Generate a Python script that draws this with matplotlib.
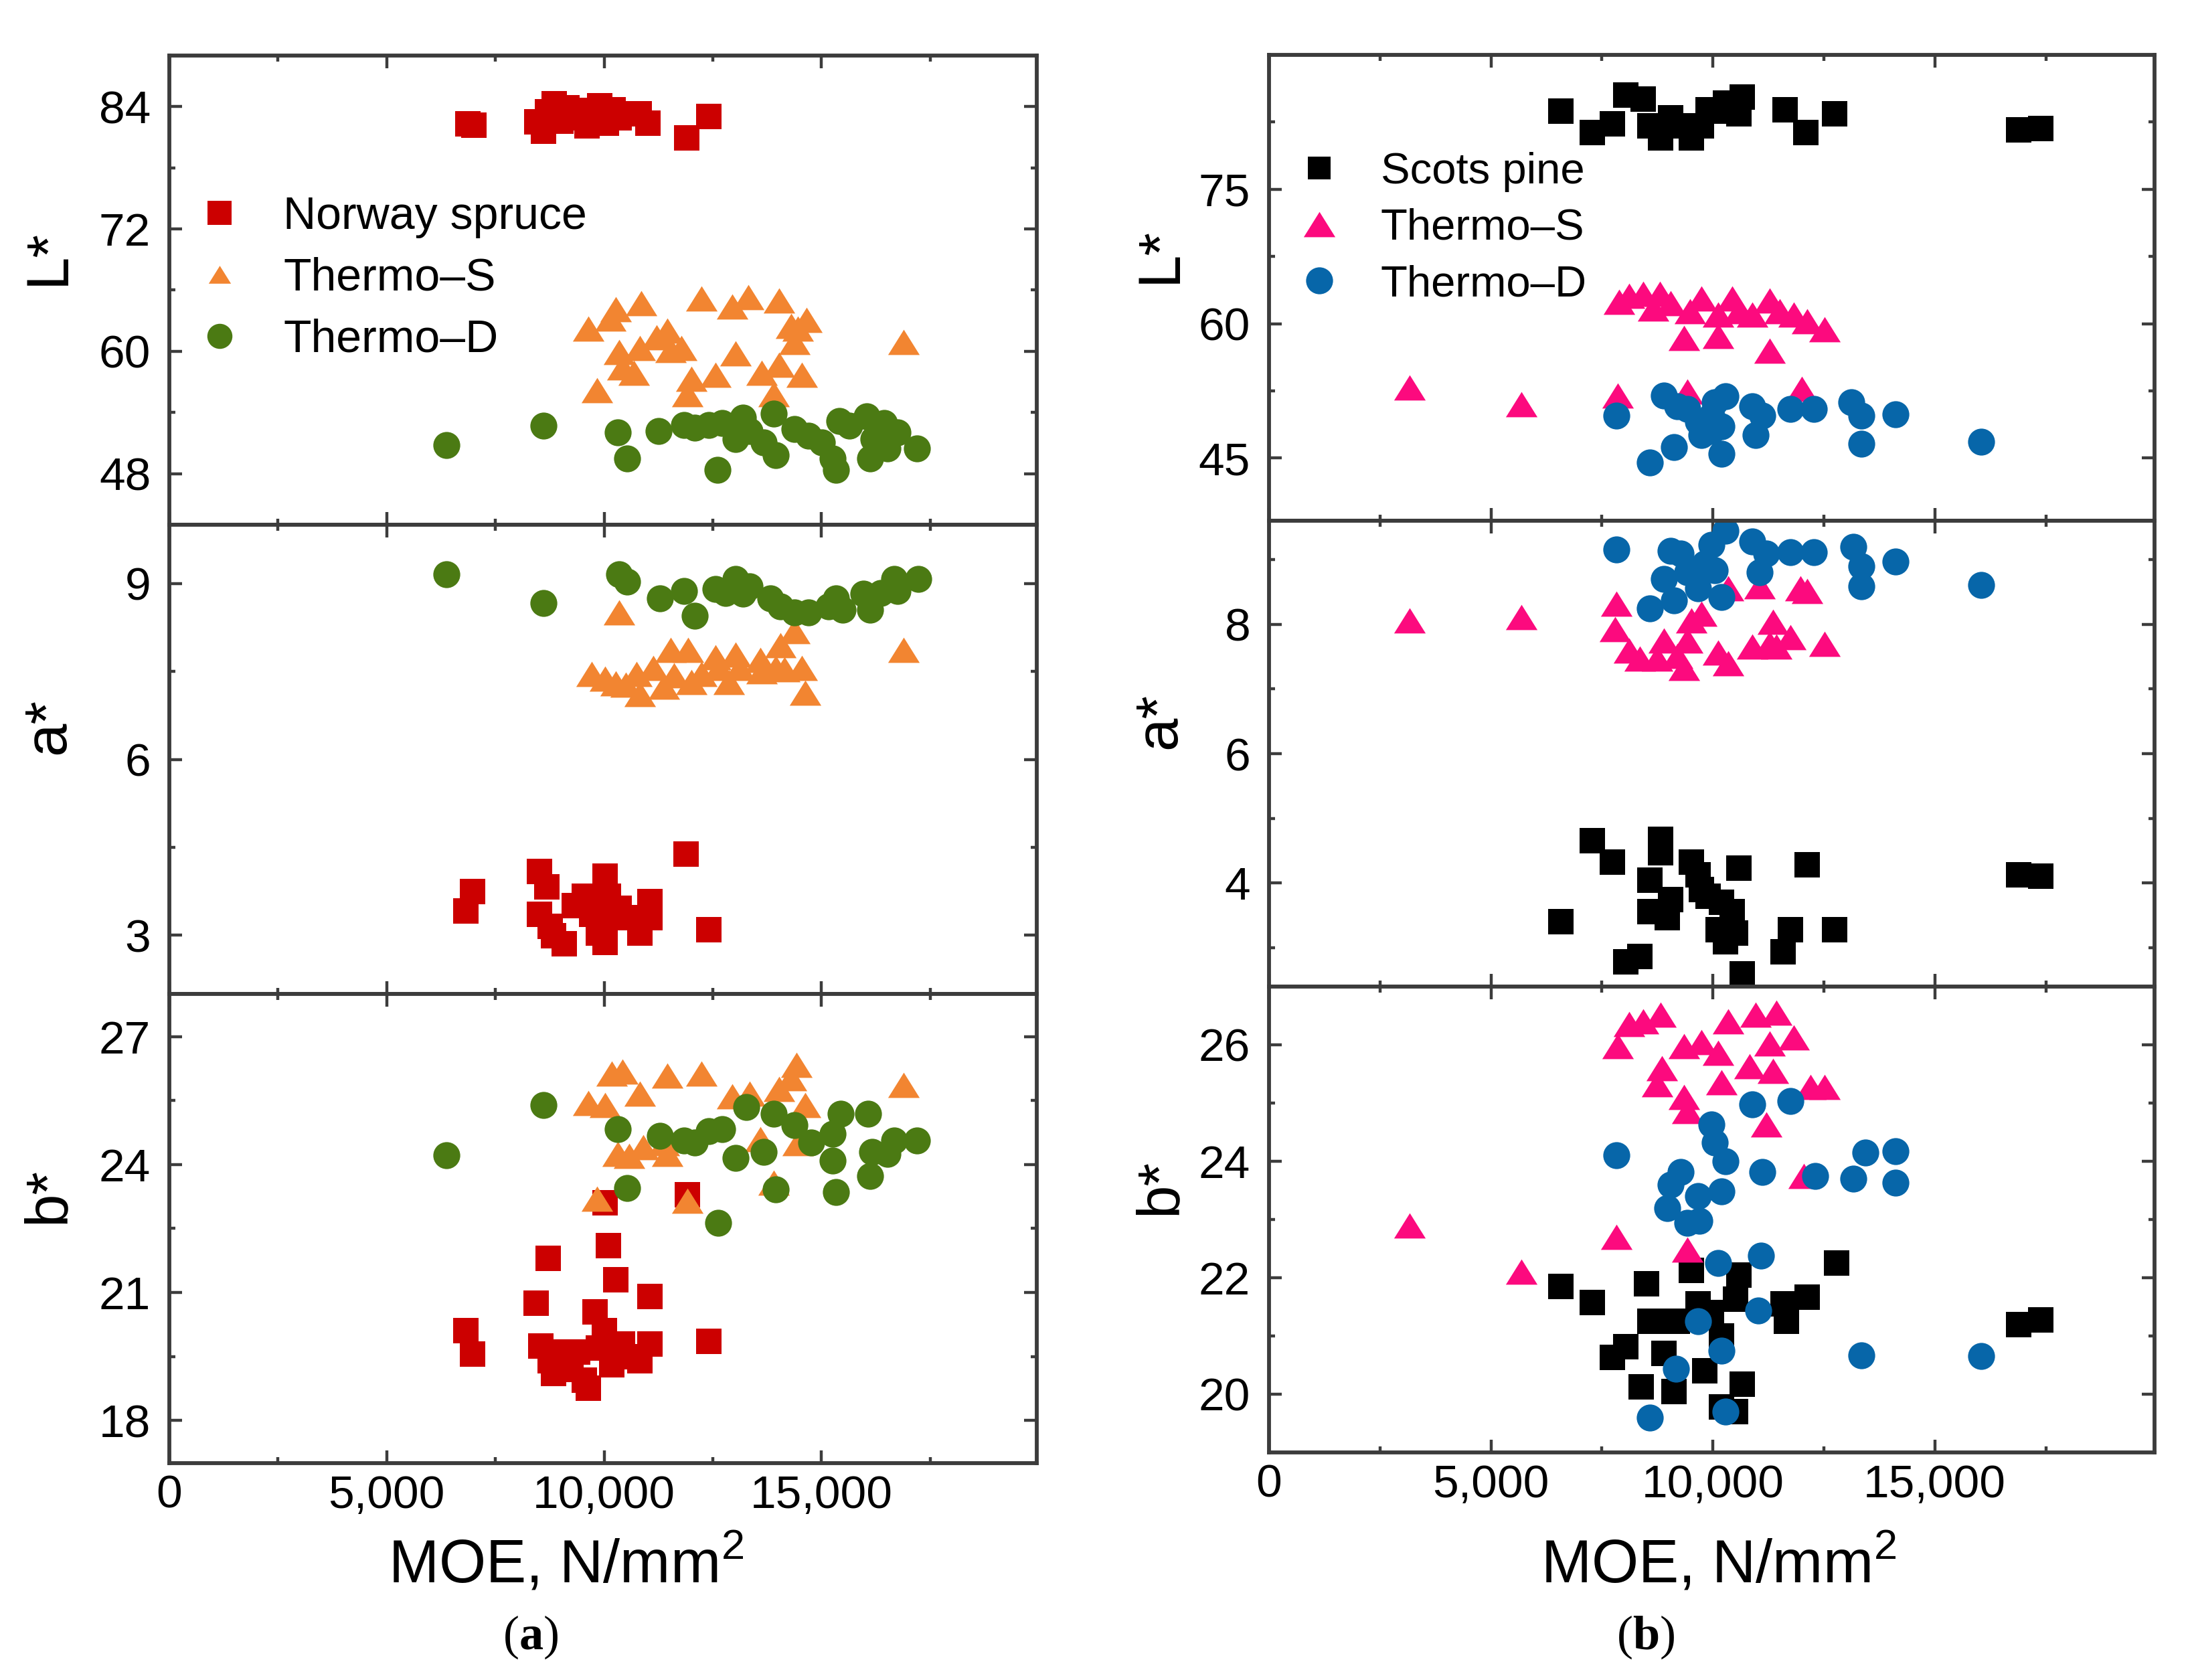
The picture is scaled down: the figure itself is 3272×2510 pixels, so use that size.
import matplotlib
matplotlib.use("Agg")
import matplotlib.pyplot as plt
from matplotlib.ticker import FixedLocator, FuncFormatter
from matplotlib.lines import Line2D

plt.rcParams['font.family'] = ['Liberation Sans', 'DejaVu Sans']
plt.rcParams['mathtext.fontset'] = 'custom'
plt.rcParams['mathtext.rm'] = 'Liberation Sans'
plt.rcParams['mathtext.bf'] = 'Liberation Serif:bold'

# ---------------------------------------------------------------- data (a)
ns_L_x = [6860, 7010, 8450, 8600, 8700, 8850, 9000, 9150, 9300, 9450, 9600, 9750, 9900, 10050,
          10200, 10350, 10550, 10800, 11000, 11900, 12400]
ns_L_y = [82.3, 82.2, 82.5, 81.6, 83.5, 84.3, 82.6, 83.9, 82.9, 83.6, 82.1, 83.2, 84.1, 82.4,
          83.7, 82.9, 83.3, 83.3, 82.4, 80.9, 83.0]
ts_L_x = [9630, 9830, 10150, 10260, 10340, 10420, 10690, 10820, 10850, 11210, 11450, 11530, 11770,
          11920, 12000, 12240, 12560, 12950, 13030, 13320, 13630, 13900, 14030, 14030, 14300, 14380,
          14460, 14540, 14650, 16880]
ts_L_y = [62.2, 56.2, 63.2, 64.1, 59.9, 58.4, 57.9, 60.3, 64.7, 61.4, 62.0, 60.1, 60.3, 55.8, 57.3,
          65.2, 57.7, 64.4, 59.8, 65.3, 57.9, 55.8, 58.7, 65.0, 62.5, 60.9, 62.2, 57.7, 63.1, 60.9]
td_L_x = [6380, 8600, 10310, 10530, 11260, 11840, 12080, 12400, 12600, 12720, 13030, 13190, 13350,
          13670, 13900, 13950, 14380, 14700, 15010, 15250, 15330, 15410, 15640, 16040, 16120, 16200,
          16440, 16520, 16750, 17200]
td_L_y = [50.8, 52.7, 52.05, 49.5, 52.2, 52.8, 52.5, 52.8, 48.4, 53.0, 51.4, 53.5, 52.2, 51.1, 53.9,
          49.8, 52.4, 51.7, 51.1, 49.5, 48.4, 53.2, 52.7, 53.6, 49.5, 51.4, 53.0, 50.5, 52.05, 50.5]

ns_a_x = [6820, 6980, 8520, 8680, 8520, 8760, 8840, 9080, 9310, 9550, 9710, 9870, 10020, 10100,
          10180, 10020, 10340, 10500, 10820, 11050, 11050, 11890, 12400]
ns_a_y = [3.41, 3.75, 4.09, 3.83, 3.36, 3.15, 2.99, 2.86, 3.51, 3.67, 3.36, 3.04, 4.01, 3.67, 3.30,
          2.88, 3.46, 3.30, 3.04, 3.57, 3.30, 4.38, 3.09]
ts_a_x = [9710, 10020, 10340, 10260, 10500, 10740, 10820, 11130, 11370, 11530, 11610, 11930, 12000,
          12240, 12560, 12640, 12870, 13030, 13110, 13590, 13630, 13950, 14060, 14140, 14380, 14540,
          14620, 16880]
ts_a_y = [7.45, 7.37, 8.50, 7.29, 7.27, 7.45, 7.11, 7.56, 7.24, 7.87, 7.43, 7.87, 7.32, 7.45, 7.74,
          7.56, 7.32, 7.79, 7.56, 7.69, 7.50, 7.56, 7.95, 7.53, 8.19, 7.56, 7.14, 7.87]
td_a_x = [6380, 8600, 10340, 10530, 11290, 11840, 12080, 12560, 12790, 13030, 13190, 13350, 13820,
          14060, 14380, 14700, 15170, 15330, 15490, 15960, 16120, 16360, 16670, 16750, 17230]
td_a_y = [9.16, 8.66, 9.16, 9.03, 8.74, 8.87, 8.45, 8.90, 8.84, 9.08, 8.82, 8.95, 8.74, 8.61, 8.50,
          8.50, 8.61, 8.74, 8.55, 8.82, 8.55, 8.84, 9.08, 8.87, 9.08]

ns_b_x = [6820, 6980, 8440, 8710, 8550, 8760, 8840, 9080, 9230, 9390, 9550, 9630, 9790, 9870, 10000,
          10100, 10020, 10180, 10260, 10420, 10660, 10820, 11050, 11050, 11920, 12400]
ns_b_y = [20.1, 19.55, 20.75, 21.8, 19.75, 19.4, 19.1, 19.6, 19.2, 19.6, 18.95, 18.75, 20.55, 19.7,
          20.1, 22.1, 23.1, 19.3, 21.3, 19.8, 19.5, 19.4, 20.9, 19.8, 23.3, 19.85]
ts_b_x = [9630, 9830, 10020, 10180, 10420, 10310, 10580, 10820, 10900, 11370, 11450, 11450, 11920,
          12240, 12950, 13350, 13590, 13900, 14030, 14300, 14420, 14460, 14620, 16880]
ts_b_y = [25.45, 23.2, 25.4, 26.13, 26.18, 24.25, 24.2, 25.66, 24.4, 24.5, 26.08, 24.25, 23.15,
          26.13, 25.6, 25.66, 24.6, 23.57, 25.77, 26.03, 26.34, 24.5, 25.4, 25.87]
td_b_x = [6380, 8600, 10310, 10530, 11290, 11840, 12080, 12400, 12630, 12710, 13030, 13270, 13670,
          13900, 13950, 14380, 14770, 15250, 15250, 15330, 15440, 16070, 16120, 16170, 16520, 16670,
          17200]
td_b_y = [24.22, 25.4, 24.83, 23.45, 24.67, 24.57, 24.51, 24.78, 22.63, 24.83, 24.15, 25.35, 24.3,
          25.19, 23.42, 24.93, 24.51, 24.72, 24.1, 23.36, 25.19, 25.19, 23.73, 24.3, 24.25, 24.57,
          24.57]

# ---------------------------------------------------------------- data (b)
sp_L_x = [6580, 7280, 7740, 8040, 8430, 8580, 8820, 9050, 9280, 9510, 9740, 9890, 10120, 10280,
          10580, 10660, 11630, 12090, 12740, 16890, 17380]
sp_L_y = [83.7, 81.3, 82.3, 85.5, 85.1, 82.1, 80.7, 83.0, 82.1, 80.7, 82.1, 83.9, 83.7, 84.6, 83.4,
          85.3, 83.9, 81.3, 83.4, 81.6, 81.8]
tsr_L_x = [3170, 5690, 7850, 7890, 8120, 8430, 8660, 8800, 9050, 9350, 9430, 9480, 9740, 10120,
           10120, 10430, 10580, 10890, 11280, 11280, 11510, 11820, 12000, 12120, 12510]
tsr_L_y = [52.9, 51.0, 52.0, 62.4, 63.1, 63.3, 61.7, 63.3, 62.3, 58.4, 52.4, 61.4, 62.8, 61.0, 58.6,
           62.8, 61.4, 61.0, 62.6, 57.0, 61.4, 61.0, 52.75, 60.3, 59.4]
tdr_L_x = [7820, 8580, 8890, 9120, 9200, 9430, 9660, 9740, 9820, 9970, 9970, 10050, 10200, 10280,
           10200, 10890, 10970, 11120, 11740, 12280, 13120, 13350, 13350, 14120, 16050]
tdr_L_y = [49.75, 44.5, 52.0, 46.2, 50.8, 50.5, 49.05, 47.6, 49.05, 49.75, 48.0, 51.2, 45.5, 51.9,
           48.5, 50.8, 47.6, 49.75, 50.5, 50.5, 51.2, 49.75, 46.6, 49.9, 46.8]

sp_a_x = [6580, 7280, 7740, 8040, 8350, 8820, 8820, 8580, 8580, 8970, 9050, 9510, 9660, 9740, 9890,
          10120, 10200, 10280, 10430, 10510, 10580, 10660, 11580, 11740, 12120, 12740, 16890, 17380]
sp_a_y = [3.40, 4.66, 4.32, 2.78, 2.87, 4.68, 4.47, 4.04, 3.56, 3.47, 3.75, 4.32, 4.13, 3.90, 3.80,
          3.28, 3.70, 3.09, 3.56, 3.23, 4.23, 2.60, 2.94, 3.28, 4.28, 3.28, 4.13, 4.11]
tsr_a_x = [3170, 5690, 7820, 7790, 8120, 8350, 8740, 8890, 9200, 9350, 9430, 9510, 9740, 10120,
           10350, 10350, 10890, 11050, 11280, 11350, 11430, 11740, 11970, 12120, 12510]
tsr_a_y = [8.06, 8.11, 8.32, 7.92, 7.59, 7.47, 7.47, 7.75, 7.51, 7.32, 7.75, 8.06, 8.16, 7.56, 7.40,
           8.56, 7.66, 8.59, 7.70, 8.04, 7.66, 7.80, 8.56, 8.51, 7.70]
tdr_a_x = [7820, 8580, 8890, 9050, 9120, 9280, 9430, 9660, 9820, 9970, 10050, 10280, 10200, 10890,
           11050, 11200, 11740, 12280, 13170, 13350, 13350, 14120, 16050]
tdr_a_y = [9.16, 8.25, 8.70, 9.13, 8.37, 9.09, 8.80, 8.56, 8.94, 9.23, 8.83, 9.44, 8.42, 9.28, 8.80,
           9.09, 9.11, 9.11, 9.20, 8.90, 8.59, 8.97, 8.61]

sp_b_x = [6580, 7280, 7740, 8040, 8510, 8380, 8580, 8890, 8890, 9120, 9200, 9510, 9660, 9810, 9970,
          10200, 10200, 10510, 10510, 10580, 10660, 11580, 11660, 12120, 12780, 16890, 17380]
sp_b_y = [21.85, 21.57, 20.63, 20.82, 21.9, 20.13, 21.25, 21.25, 20.7, 20.05, 21.25, 22.13, 21.55,
          20.4, 21.4, 21.0, 19.78, 19.7, 21.63, 22.05, 20.17, 21.55, 21.25, 21.67, 22.25, 21.2, 21.28]
tsr_b_x = [3170, 5690, 7820, 7850, 8120, 8430, 8820, 8740, 8850, 9350, 9430, 9430, 9350, 9740,
           10120, 10200, 10350, 10820, 10970, 11280, 11350, 11430, 11200, 11820, 12050, 12200, 12510]
tsr_b_y = [22.9, 22.1, 22.7, 25.98, 26.36, 26.4, 26.52, 25.32, 25.6, 25.1, 24.86, 22.48, 25.98,
           26.05, 25.86, 25.36, 26.4, 25.63, 26.52, 26.02, 25.55, 26.55, 24.63, 26.13, 23.75, 25.28,
           25.28]
tdr_b_x = [7820, 8580, 8970, 9050, 9170, 9280, 9430, 9660, 9660, 9690, 9970, 10050, 10120, 10200,
           10200, 10280, 10280, 10890, 11020, 11120, 11080, 11740, 12310, 13170, 13350, 13430, 14120,
           14120, 16050]
tdr_b_y = [24.1, 19.6, 23.2, 23.6, 20.44, 23.82, 22.94, 23.4, 21.25, 22.98, 24.63, 24.32, 22.25,
           23.48, 20.75, 24.0, 19.7, 24.98, 21.44, 23.82, 22.38, 25.03, 23.75, 23.7, 20.67, 24.15,
           24.17, 23.63, 20.65]

legend_a = ['Norway spruce', 'Thermo\u2013S', 'Thermo\u2013D']
legend_b = ['Scots pine', 'Thermo\u2013S', 'Thermo\u2013D']
ylabels = ['L*', 'a*', 'b*']

# ---------------------------------------------------------------- style
RED, ORANGE, GREEN = '#cc0000', '#f28531', '#4b7a13'
BLACK, PINK, BLUE = '#000000', '#fc0a7e', '#0766a9'
SPINE = '#3c3c3c'
TRI = [(-1, -0.8), (1, -0.8), (0, 0.8)]
SQ_MS, CI_MS, TR_MS = 27, 29, 34
TICK_FS = 50

fig = plt.figure(figsize=(32.73, 25.10), dpi=100)


def style(ax, xlim, ylim, ymaj, ymin, show_x):
    ax.set_xlim(*xlim)
    ax.set_ylim(*ylim)
    ax.xaxis.set_major_locator(FixedLocator([0, 5000, 10000, 15000]))
    ax.xaxis.set_minor_locator(FixedLocator([2500, 7500, 12500, 17500]))
    ax.yaxis.set_major_locator(FixedLocator(ymaj))
    ax.yaxis.set_minor_locator(FixedLocator(ymin))
    ax.xaxis.set_major_formatter(FuncFormatter(lambda v, p: f'{int(v):,}'))
    ax.yaxis.set_major_formatter(FuncFormatter(lambda v, p: f'{v:g}'))
    ax.tick_params(which='both', direction='in', top=True, right=True, color=SPINE)
    ax.tick_params(which='major', length=14, width=3.2, labelsize=TICK_FS)
    ax.tick_params(which='minor', length=6.5, width=3.2)
    ax.tick_params(axis='y', pad=20)
    ax.tick_params(axis='x', pad=12, labelbottom=show_x)
    for s in ax.spines.values():
        s.set_linewidth(4.2)
        s.set_color(SPINE)


def draw(ax, x, y, color, marker, ms):
    ax.plot(x, y, ls='none', marker=marker, ms=ms, color=color, mec=color, mew=0)


left_x0, left_w = 253 / 3273, 1296 / 3273
left_h, left_b = 701 / 2510, 1 - 2186 / 2510
right_x0, right_w = 1896 / 3273, 1323 / 3273
right_h, right_b = 696 / 2510, 1 - 2170 / 2510

axL = [fig.add_axes([left_x0, left_b + (2 - i) * left_h, left_w, left_h]) for i in range(3)]
axR = [fig.add_axes([right_x0, right_b + (2 - i) * right_h, right_w, right_h]) for i in range(3)]

xl = (0, 19950)
style(axL[0], xl, (43, 89), [48, 60, 72, 84], [54, 66, 78], False)
style(axL[1], xl, (2, 10), [3, 6, 9], [4.5, 7.5], False)
style(axL[2], xl, (17, 28), [18, 21, 24, 27], [19.5, 22.5, 25.5], True)
style(axR[0], xl, (38, 90), [45, 60, 75], [52.5, 67.5, 82.5], False)
style(axR[1], xl, (2.4, 9.6), [4, 6, 8], [3, 5, 7, 9], False)
style(axR[2], xl, (19, 27), [20, 22, 24, 26], [21, 23, 25], True)

left_sets = [
    [(ns_L_x, ns_L_y), (ts_L_x, ts_L_y), (td_L_x, td_L_y)],
    [(ns_a_x, ns_a_y), (ts_a_x, ts_a_y), (td_a_x, td_a_y)],
    [(ns_b_x, ns_b_y), (ts_b_x, ts_b_y), (td_b_x, td_b_y)],
]
right_sets = [
    [(sp_L_x, sp_L_y), (tsr_L_x, tsr_L_y), (tdr_L_x, tdr_L_y)],
    [(sp_a_x, sp_a_y), (tsr_a_x, tsr_a_y), (tdr_a_x, tdr_a_y)],
    [(sp_b_x, sp_b_y), (tsr_b_x, tsr_b_y), (tdr_b_x, tdr_b_y)],
]
markers = [('s', SQ_MS), (TRI, TR_MS), ('o', CI_MS)]

for ax, sets in zip(axL, left_sets):
    for (x, y), c, (m, ms) in zip(sets, [RED, ORANGE, GREEN], markers):
        draw(ax, x, y, c, m, ms)
for ax, sets in zip(axR, right_sets):
    for (x, y), c, (m, ms) in zip(sets, [BLACK, PINK, BLUE], markers):
        draw(ax, x, y, c, m, ms)

# y labels
for ax, lab in zip(axL, ylabels):
    ax.text(-0.139, 0.57, lab, transform=ax.transAxes, rotation=90, ha='center', va='center',
            fontsize=64)
for ax, lab in zip(axR, ylabels):
    ax.text(-0.123, 0.57, lab, transform=ax.transAxes, rotation=90, ha='center', va='center',
            fontsize=64)

# legends
hl = [Line2D([], [], ls='none', marker='s', ms=26, color=RED, mew=0),
      Line2D([], [], ls='none', marker=TRI, ms=24, color=ORANGE, mew=0),
      Line2D([], [], ls='none', marker='o', ms=27, color=GREEN, mew=0)]
axL[0].legend(hl, legend_a, loc='upper left', bbox_to_anchor=(0.042, 0.702), frameon=False,
              fontsize=49, borderpad=0, borderaxespad=0, handlelength=0.6, handletextpad=1.1,
              labelspacing=0.41)
hr = [Line2D([], [], ls='none', marker='s', ms=25, color=BLACK, mew=0),
      Line2D([], [], ls='none', marker=TRI, ms=34, color=PINK, mew=0),
      Line2D([], [], ls='none', marker='o', ms=29, color=BLUE, mew=0)]
axR[0].legend(hr, legend_b, loc='upper left', bbox_to_anchor=(0.042, 0.792), frameon=False,
              fontsize=47, borderpad=0, borderaxespad=0, handlelength=0.6, handletextpad=1.1,
              labelspacing=0.37)

# x labels and panel captions
fig.text(846 / 3273, 0.058, r'MOE, N/mm$^{2}$', ha='center', va='baseline', fontsize=65)
fig.text(2568 / 3273, 0.058, r'MOE, N/mm$^{2}$', ha='center', va='baseline', fontsize=65)
fig.text(793 / 3273, 0.0255, r'($\mathbf{a}$)', ha='center', va='center', fontsize=52,
         family='Liberation Serif')
fig.text(2459 / 3273, 0.0255, r'($\mathbf{b}$)', ha='center', va='center', fontsize=52,
         family='Liberation Serif')

fig.savefig('out.png', dpi=100, facecolor='white')
